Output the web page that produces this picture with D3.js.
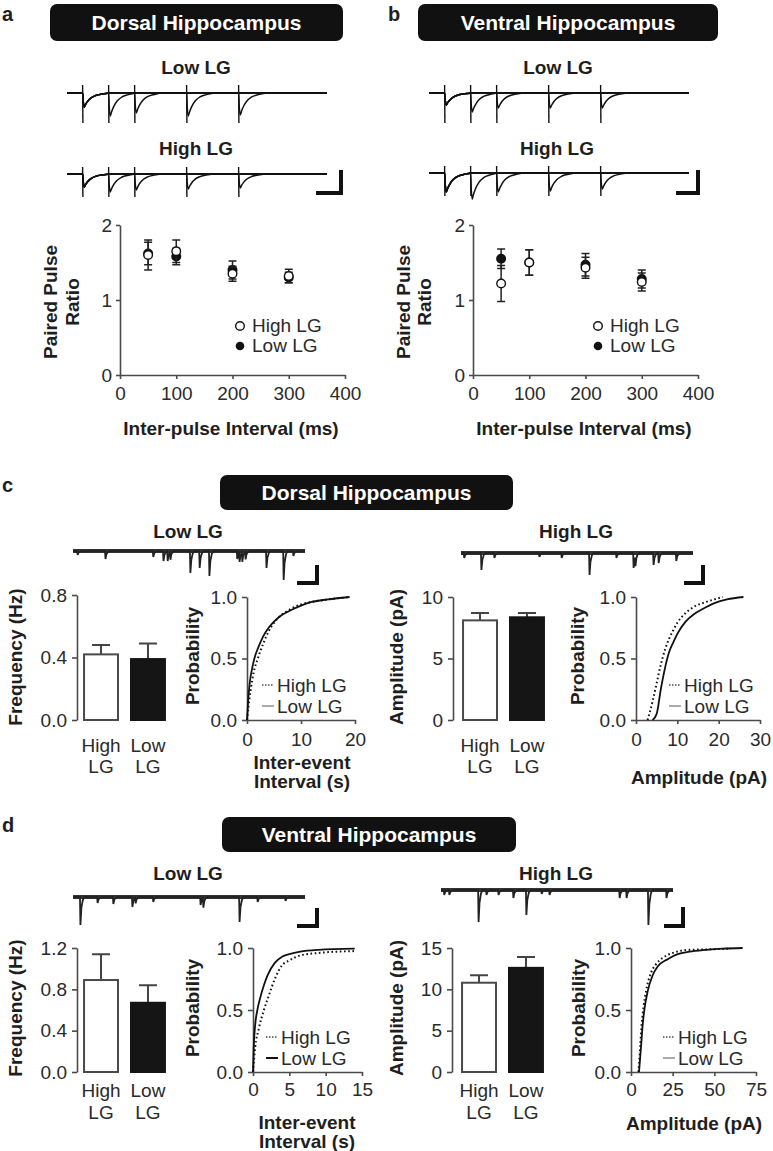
<!DOCTYPE html>
<html>
<head>
<meta charset="utf-8">
<script src="https://cdnjs.cloudflare.com/ajax/libs/d3/7.8.5/d3.min.js"></script>
<style>
  body { margin: 0; background: #fff; }
  svg { display: block; font-family: "Liberation Sans", Arial, sans-serif; }
  .axis path, .axis line { stroke: #4a4a4a; stroke-width: 1.6; }
  .axis text { font-size: 19px; fill: #2a2a2a; font-family: "Liberation Sans", Arial, sans-serif; }
  .lbl { font-size: 19px; font-weight: bold; fill: #1e1e1e; }
  .txt { font-size: 19px; fill: #2a2a2a; }
</style>
</head>
<body>
<div id="chart"></div>
<script>
const WIDTH = 773;
const HEIGHT = 1151;

// ---- data: paired pulse ratio (a, b)
const INTERVALS = [50, 100, 200, 300];
const PPR_X_TICKS = [0, 100, 200, 300, 400];
const PPR_Y_TICKS = [0, 1, 2];
const PPR_DORSAL_HIGH = [1.60, 1.65, 1.35, 1.32];
const PPR_DORSAL_HIGH_ERR = [0.20, 0.15, 0.10, 0.09];
const PPR_DORSAL_LOW = [1.62, 1.58, 1.40, 1.30];
const PPR_DORSAL_LOW_ERR = [0.15, 0.11, 0.12, 0.07];
const PPR_VENTRAL_HIGH = [1.22, 1.50, 1.43, 1.24];
const PPR_VENTRAL_HIGH_ERR = [0.24, 0.17, 0.14, 0.12];
const PPR_VENTRAL_LOW = [1.55, 1.50, 1.47, 1.28];
const PPR_VENTRAL_LOW_ERR = [0.13, 0.17, 0.15, 0.12];

// ---- data: evoked traces (first pulse + second pulse at each interval)
const PULSE_TIMES = [0, 50, 100, 200, 300];            // ms
const EPSC_SHAPE = [[0, 0], [1, -0.5], [3, -1], [6, -0.8], [10, -0.58], [16, -0.36], [25, -0.18], [38, -0.07], [55, 0]];
const DORSAL_LOW_PEAKS = [14, 23, 20, 23, 22];
const DORSAL_HIGH_PEAKS = [13, 18, 16, 15, 14];
const VENTRAL_LOW_PEAKS = [12, 19, 15, 15, 15];
const VENTRAL_HIGH_PEAKS = [19, 26, 19, 18, 16];
const ARTIFACT_LOW = [8, -30];
const ARTIFACT_HIGH = [7, -23];

// ---- data: spontaneous events [time s, amplitude]
const MINI_SHAPE = [[0, 0], [0.01, -1], [0.03, -0.4], [0.06, -0.12], [0.09, 0]];
const C_LOW_EVENTS = [[0.09, 4], [0.69, 8], [1.72, 6], [1.94, 10], [2.03, 10], [2.09, 8], [2.52, 22], [2.72, 17], [2.93, 25], [3.53, 8], [3.58, 10], [3.64, 10], [3.71, 8], [4.16, 17], [4.53, 29], [4.74, 5]];
const C_HIGH_EVENTS = [[0.06, 5], [0.43, 17], [0.71, 5], [1.68, 4], [2.16, 5], [2.76, 22], [3.34, 5], [3.71, 15], [3.75, 10], [4.14, 12], [4.25, 10], [4.63, 8]];
const D_LOW_EVENTS = [[0.15, 28], [0.52, 6], [0.86, 7], [1.27, 10], [1.34, 6], [1.72, 5], [2.74, 8], [2.80, 10], [3.58, 25], [3.97, 5], [4.57, 4]];
const D_HIGH_EVENTS = [[0.06, 5], [0.17, 5], [0.80, 32], [0.97, 5], [1.23, 5], [1.55, 8], [1.83, 25], [2.16, 4], [2.33, 5], [3.84, 8], [3.99, 8], [4.46, 35], [4.85, 8]];

// ---- data: bars (c, d)
const GROUPS = ["High LG", "Low LG"];
const FREQ_DORSAL = [0.42, 0.39];
const FREQ_DORSAL_SEM = [0.06, 0.10];
const AMP_DORSAL = [8.1, 8.35];
const AMP_DORSAL_SEM = [0.6, 0.35];
const FREQ_VENTRAL = [0.89, 0.67];
const FREQ_VENTRAL_SEM = [0.25, 0.17];
const AMP_VENTRAL = [10.8, 12.6];
const AMP_VENTRAL_SEM = [0.9, 1.3];

// ---- data: cumulative distributions [x, probability]
const IEI_DORSAL_HIGH = [[0, 0], [0.3, 0.12], [0.7, 0.25], [1.2, 0.38], [2, 0.5], [3, 0.62], [4, 0.72], [5, 0.79], [6, 0.84], [8, 0.9], [10, 0.94], [12, 0.96], [15, 0.98], [19, 1.0]];
const IEI_DORSAL_LOW = [[0, 0], [0.2, 0.15], [0.5, 0.3], [1, 0.43], [1.5, 0.52], [2, 0.58], [3, 0.68], [4, 0.75], [5, 0.8], [6, 0.84], [8, 0.89], [10, 0.93], [12, 0.96], [15, 0.98], [19, 1.0]];
const AMPC_DORSAL_HIGH = [[2.8, 0], [4, 0.15], [5, 0.3], [6, 0.45], [7, 0.57], [8, 0.66], [9, 0.73], [10, 0.79], [12, 0.87], [14, 0.92], [17, 0.96], [21, 1.0]];
const AMPC_DORSAL_LOW = [[4, 0], [5, 0.05], [6, 0.25], [7, 0.42], [8, 0.55], [9, 0.63], [10, 0.7], [12, 0.8], [14, 0.86], [16, 0.9], [19, 0.95], [22, 0.98], [26, 1.0]];
const IEI_VENTRAL_HIGH = [[0, 0], [0.3, 0.2], [0.8, 0.35], [1.5, 0.5], [2.2, 0.62], [3, 0.75], [4, 0.86], [5, 0.9], [6.5, 0.94], [9, 0.96], [14, 0.975]];
const IEI_VENTRAL_LOW = [[0, 0], [0.1, 0.2], [0.3, 0.38], [0.6, 0.5], [1, 0.6], [1.5, 0.7], [2, 0.78], [3, 0.88], [4, 0.93], [5, 0.95], [6.5, 0.97], [9, 0.985], [14, 0.995]];
const AMPC_VENTRAL_HIGH = [[4.5, 0], [5.5, 0.2], [6.5, 0.4], [7.5, 0.52], [9, 0.65], [12, 0.8], [15, 0.87], [19, 0.92], [25, 0.96], [35, 0.985], [50, 0.99], [60, 0.995]];
const AMPC_VENTRAL_LOW = [[4.8, 0], [6, 0.2], [7, 0.38], [8, 0.5], [10, 0.65], [13, 0.78], [16, 0.85], [22, 0.91], [28, 0.95], [35, 0.97], [45, 0.985], [55, 0.995], [67, 1.0]];

const svg = d3.select("#chart").append("svg")
  .attr("width", WIDTH)
  .attr("height", HEIGHT)
  .style("background-color", "#fff");

function text(x, y, t, cls, anchor) {
  return svg.append("text").attr("x", x).attr("y", y)
    .attr("class", cls || "txt")
    .attr("text-anchor", anchor || "middle")
    .text(t);
}

function vText(x, y, t) {
  svg.append("text")
    .attr("transform", "translate(" + x + "," + y + ") rotate(-90)")
    .attr("class", "lbl")
    .attr("text-anchor", "middle")
    .attr("dy", "0.35em")
    .text(t);
}

function titleBox(x0, x1, y0, y1, t) {
  svg.append("rect").attr("x", x0).attr("y", y0)
    .attr("width", x1 - x0).attr("height", y1 - y0)
    .attr("rx", 7).attr("fill", "#111");
  svg.append("text").attr("x", (x0 + x1) / 2).attr("y", (y0 + y1) / 2)
    .attr("dy", "0.36em")
    .attr("text-anchor", "middle")
    .attr("fill", "#fff")
    .style("font-size", "21px").style("font-weight", "bold")
    .text(t);
}

function scaleBar(xv, y0, y1, x0) {
  svg.append("path")
    .attr("d", "M" + xv + "," + y0 + "V" + y1 + "H" + x0)
    .attr("fill", "none").attr("stroke", "#111").attr("stroke-width", 4);
}

// value of a summed waveform at time t
function shapeAt(shape, dt) {
  if (dt < 0 || dt > shape[shape.length - 1][0]) return 0;
  for (let i = 1; i < shape.length; i++) {
    if (dt <= shape[i][0]) {
      const a = shape[i - 1], b = shape[i];
      return a[1] + (b[1] - a[1]) * (dt - a[0]) / (b[0] - a[0]);
    }
  }
  return 0;
}

function sumPoints(events, shape, t0, t1) {
  let times = [t0, t1];
  events.forEach(e => shape.forEach(s => times.push(e[0] + s[0])));
  times = Array.from(new Set(times)).filter(t => t >= t0 && t <= t1).sort((a, b) => a - b);
  return times.map(t => [t, d3.sum(events, e => e[1] * shapeAt(shape, t - e[0]))]);
}

/**
 * evoked traces: four overlaid sweeps (pulse 1 + pulse 2 at each interval)
 */
function drawEvoked(xRange, base, peaks, artifact) {
  const x = d3.scaleLinear().domain([-30, 470]).range(xRange);
  const y = d3.scaleLinear().domain([-40, 10]).range([base + 40, base - 10]);
  const line = d3.line().x(d => x(d[0])).y(d => y(d[1])).curve(d3.curveMonotoneX);
  for (let k = 1; k < PULSE_TIMES.length; k++) {
    const ev = [[0, peaks[0]], [PULSE_TIMES[k], peaks[k]]];
    svg.append("path").datum(sumPoints(ev, EPSC_SHAPE, -30, 470))
      .attr("d", line).attr("fill", "none")
      .attr("stroke", "#111").attr("stroke-width", 1.5);
  }
  svg.selectAll(null).data(PULSE_TIMES).enter().append("line")
    .attr("x1", d => x(d)).attr("x2", d => x(d) + 0.3)
    .attr("y1", y(artifact[0])).attr("y2", y(artifact[1]))
    .attr("stroke", "#111").attr("stroke-width", 1.4);
}

function drawMinis(x0, base, events) {
  const x = d3.scaleLinear().domain([0, 5]).range([x0, x0 + 232]);
  const y = d3.scaleLinear().domain([-40, 10]).range([base + 40, base - 10]);
  svg.append("line").attr("x1", x(0)).attr("x2", x(5))
    .attr("y1", y(0)).attr("y2", y(0))
    .attr("stroke", "#333").attr("stroke-width", 4);
  svg.append("path").datum(sumPoints(events, MINI_SHAPE, 0, 5))
    .attr("d", d3.line().x(d => x(d[0])).y(d => y(d[1])))
    .attr("fill", "none").attr("stroke", "#222").attr("stroke-width", 1.8);
}

function drawScatter(cfg, high, highErr, low, lowErr) {
  const x = d3.scaleLinear().domain([0, 400]).range(cfg.xRange);
  const y = d3.scaleLinear().domain([0, 2]).range([375, 225]);
  svg.append("g").attr("class", "axis")
    .attr("transform", "translate(0," + y(0) + ")")
    .call(d3.axisBottom(x).tickValues(PPR_X_TICKS).tickSize(4).tickSizeOuter(0).tickPadding(8));
  svg.append("g").attr("class", "axis")
    .attr("transform", "translate(" + x(0) + ",0)")
    .call(d3.axisLeft(y).tickValues(PPR_Y_TICKS).tickSize(4).tickSizeOuter(0).tickPadding(4).tickFormat(d3.format("d")));

  const series = [
    { v: low, e: lowErr, fill: "#111" },
    { v: high, e: highErr, fill: "#fff" }
  ];
  series.forEach(s => {
    const g = svg.append("g");
    INTERVALS.forEach((t, i) => {
      const cx = x(t);
      g.append("path")
        .attr("d", "M" + (cx - 4) + "," + y(s.v[i] + s.e[i]) + "H" + (cx + 4) +
                   "M" + cx + "," + y(s.v[i] + s.e[i]) + "V" + y(s.v[i] - s.e[i]) +
                   "M" + (cx - 4) + "," + y(s.v[i] - s.e[i]) + "H" + (cx + 4))
        .attr("stroke", "#222").attr("stroke-width", 1.5).attr("fill", "none");
      g.append("circle").attr("cx", cx).attr("cy", y(s.v[i])).attr("r", 4.3)
        .attr("fill", s.fill).attr("stroke", "#111").attr("stroke-width", 1.4);
    });
  });

  svg.append("circle").attr("cx", cfg.legendX).attr("cy", 326).attr("r", 4.3)
    .attr("fill", "#fff").attr("stroke", "#111").attr("stroke-width", 1.4);
  text(cfg.legendX + 12, 332, "High LG", "txt", "start");
  svg.append("circle").attr("cx", cfg.legendX).attr("cy", 346).attr("r", 4.3)
    .attr("fill", "#111");
  text(cfg.legendX + 12, 352, "Low LG", "txt", "start");

  vText(cfg.ylabX[0], 302, "Paired Pulse");
  vText(cfg.ylabX[1], 302, "Ratio");
  text(cfg.xlabX, 435, "Inter-pulse Interval (ms)", "lbl");
}

function drawBars(cfg, values, sem) {
  const x = d3.scaleBand().domain(GROUPS)
    .range([cfg.axisX + cfg.shift, cfg.axisX + cfg.shift + 95])
    .paddingInner(0.277).paddingOuter(0.15);
  const y = d3.scaleLinear().domain(cfg.domain).range(cfg.yRange);
  svg.append("g").attr("class", "axis")
    .attr("transform", "translate(" + cfg.axisX + ",0)")
    .call(d3.axisLeft(y).tickValues(cfg.ticks).tickSize(5).tickSizeOuter(0).tickPadding(5).tickFormat(d3.format(cfg.fmt)));

  GROUPS.forEach((gname, i) => {
    const bx = x(gname), bw = x.bandwidth(), cx = bx + bw / 2;
    svg.append("path")
      .attr("d", "M" + cx + "," + y(values[i]) + "V" + y(values[i] + sem[i]) +
                 "M" + (cx - 9) + "," + y(values[i] + sem[i]) + "H" + (cx + 9))
      .attr("stroke", "#444").attr("stroke-width", 2).attr("fill", "none");
    svg.append("rect").attr("x", bx).attr("width", bw)
      .attr("y", y(values[i])).attr("height", y(0) - y(values[i]))
      .attr("fill", i === 0 ? "#fff" : "#151515")
      .attr("stroke", i === 0 ? "#4a4a4a" : "#151515").attr("stroke-width", 2);
    const parts = gname.split(" ");
    text(cx, cfg.labY[0], parts[0]);
    text(cx, cfg.labY[1], parts[1]);
  });
  vText(cfg.ylabX, cfg.ylabY, cfg.ylab);
}

function drawCdf(cfg, high, low) {
  const x = d3.scaleLinear().domain(cfg.xDomain).range([cfg.axisX, cfg.xEnd]);
  const y = d3.scaleLinear().domain([0, 1]).range(cfg.yRange);
  svg.append("g").attr("class", "axis")
    .attr("transform", "translate(0," + y(0) + ")")
    .call(d3.axisBottom(x).tickValues(cfg.ticks).tickSize(4).tickSizeOuter(0).tickPadding(cfg.xPad));
  svg.append("g").attr("class", "axis")
    .attr("transform", "translate(" + cfg.axisX + ",0)")
    .call(d3.axisLeft(y).tickValues([0, 0.5, 1]).tickSize(5).tickSizeOuter(0).tickPadding(5).tickFormat(d3.format(".1f")));

  const line = d3.line().x(d => x(d[0])).y(d => y(d[1])).curve(d3.curveMonotoneX);
  svg.append("path").datum(low).attr("d", line).attr("fill", "none")
    .attr("stroke", "#111").attr("stroke-width", 1.8);
  svg.append("path").datum(high).attr("d", line).attr("fill", "none")
    .attr("stroke", "#111").attr("stroke-width", 2).attr("stroke-dasharray", "1.6,2.6");

  const lg = cfg.legend;
  svg.append("line").attr("x1", lg.x).attr("x2", lg.x + 12).attr("y1", lg.y).attr("y2", lg.y)
    .attr("stroke", "#777").attr("stroke-width", 2).attr("stroke-dasharray", "1.5,1.5");
  text(lg.x + 15, lg.y + 7, "High LG", "txt", "start");
  svg.append("line").attr("x1", lg.x).attr("x2", lg.x + 12).attr("y1", lg.y + 21).attr("y2", lg.y + 21)
    .attr("stroke", lg.lowColor).attr("stroke-width", 2);
  text(lg.x + 15, lg.y + 28, "Low LG", "txt", "start");

  vText(cfg.ylabX, cfg.ylabY, "Probability");
  cfg.xlab.forEach((t, i) => text(cfg.xlabX, cfg.xlabY[i], t, "lbl"));
}

// ---- panel letters
text(2, 21, "a", "lbl", "start").style("font-size", "20px");
text(388, 21, "b", "lbl", "start").style("font-size", "20px");
text(2, 492, "c", "lbl", "start").style("font-size", "20px");
text(2, 832, "d", "lbl", "start").style("font-size", "20px");

// ---- panel a / b
titleBox(50, 343, 4, 41, "Dorsal Hippocampus");
titleBox(418, 718, 4, 41, "Ventral Hippocampus");
text(196, 74, "Low LG", "lbl");
text(196, 155, "High LG", "lbl");
text(558, 74, "Low LG", "lbl");
text(557, 155, "High LG", "lbl");

drawEvoked([67, 327], 93, DORSAL_LOW_PEAKS, ARTIFACT_LOW);
drawEvoked([67, 327], 174, DORSAL_HIGH_PEAKS, ARTIFACT_HIGH);
drawEvoked([429, 689], 93, VENTRAL_LOW_PEAKS, ARTIFACT_LOW);
drawEvoked([429, 689], 173, VENTRAL_HIGH_PEAKS, ARTIFACT_HIGH);
scaleBar(341, 170, 193, 316);
scaleBar(698, 170, 193, 676);

drawScatter({ xRange: [120, 345], legendX: 240, ylabX: [50, 72], xlabX: 231 },
  PPR_DORSAL_HIGH, PPR_DORSAL_HIGH_ERR, PPR_DORSAL_LOW, PPR_DORSAL_LOW_ERR);
drawScatter({ xRange: [473, 698], legendX: 598, ylabX: [403, 424], xlabX: 584 },
  PPR_VENTRAL_HIGH, PPR_VENTRAL_HIGH_ERR, PPR_VENTRAL_LOW, PPR_VENTRAL_LOW_ERR);

// ---- panel c
titleBox(220, 513, 475, 510, "Dorsal Hippocampus");
text(188, 538, "Low LG", "lbl");
text(576, 538, "High LG", "lbl");
drawMinis(73, 551, C_LOW_EVENTS);
drawMinis(461, 553, C_HIGH_EVENTS);
scaleBar(317, 565, 583, 297);
scaleBar(703, 565, 583, 684);

drawBars({ axisX: 77, shift: 0, domain: [0, 0.8], yRange: [720, 595], ticks: [0, 0.4, 0.8], fmt: ".1f",
  labY: [752, 773], ylabX: 15, ylabY: 657, ylab: "Frequency (Hz)" }, FREQ_DORSAL, FREQ_DORSAL_SEM);
drawCdf({ axisX: 247, xEnd: 355, xDomain: [0, 20], ticks: [0, 10, 20], yRange: [720, 597], xPad: 9,
  legend: { x: 262, y: 685, lowColor: "#aaa" }, ylabX: 192, ylabY: 656,
  xlab: ["Inter-event", "Interval (s)"], xlabX: 302, xlabY: [769, 788] }, IEI_DORSAL_HIGH, IEI_DORSAL_LOW);
drawBars({ axisX: 453, shift: 3, domain: [0, 10], yRange: [720, 597], ticks: [0, 5, 10], fmt: "d",
  labY: [752, 773], ylabX: 396, ylabY: 657, ylab: "Amplitude (pA)" }, AMP_DORSAL, AMP_DORSAL_SEM);
drawCdf({ axisX: 636, xEnd: 760, xDomain: [0, 30], ticks: [0, 10, 20, 30], yRange: [720, 597], xPad: 9,
  legend: { x: 669, y: 685, lowColor: "#aaa" }, ylabX: 577, ylabY: 656,
  xlab: ["Amplitude (pA)"], xlabX: 699, xlabY: [784] }, AMPC_DORSAL_HIGH, AMPC_DORSAL_LOW);

// ---- panel d
titleBox(222, 516, 817, 852, "Ventral Hippocampus");
text(188, 880, "Low LG", "lbl");
text(556, 880, "High LG", "lbl");
drawMinis(73, 897, D_LOW_EVENTS);
drawMinis(441, 890, D_HIGH_EVENTS);
scaleBar(317, 908, 926, 297);
scaleBar(683, 907, 926, 664);

drawBars({ axisX: 77, shift: 0, domain: [0, 1.2], yRange: [1072, 948], ticks: [0, 0.4, 0.8, 1.2], fmt: ".1f",
  labY: [1097, 1119], ylabX: 15, ylabY: 1008, ylab: "Frequency (Hz)" }, FREQ_VENTRAL, FREQ_VENTRAL_SEM);
drawCdf({ axisX: 253, xEnd: 362, xDomain: [0, 15], ticks: [0, 5, 10, 15], yRange: [1072, 948], xPad: 7,
  legend: { x: 266, y: 1037, lowColor: "#111" }, ylabX: 192, ylabY: 1008,
  xlab: ["Inter-event", "Interval (s)"], xlabX: 307, xlabY: [1129, 1148] }, IEI_VENTRAL_HIGH, IEI_VENTRAL_LOW);
drawBars({ axisX: 452, shift: 3, domain: [0, 15], yRange: [1072, 948], ticks: [0, 5, 10, 15], fmt: "d",
  labY: [1097, 1119], ylabX: 396, ylabY: 1008, ylab: "Amplitude (pA)" }, AMP_VENTRAL, AMP_VENTRAL_SEM);
drawCdf({ axisX: 631, xEnd: 756, xDomain: [0, 75], ticks: [0, 25, 50, 75], yRange: [1072, 948], xPad: 7,
  legend: { x: 663, y: 1037, lowColor: "#aaa" }, ylabX: 578, ylabY: 1008,
  xlab: ["Amplitude (pA)"], xlabX: 694, xlabY: [1130] }, AMPC_VENTRAL_HIGH, AMPC_VENTRAL_LOW);
</script>
</body>
</html>
